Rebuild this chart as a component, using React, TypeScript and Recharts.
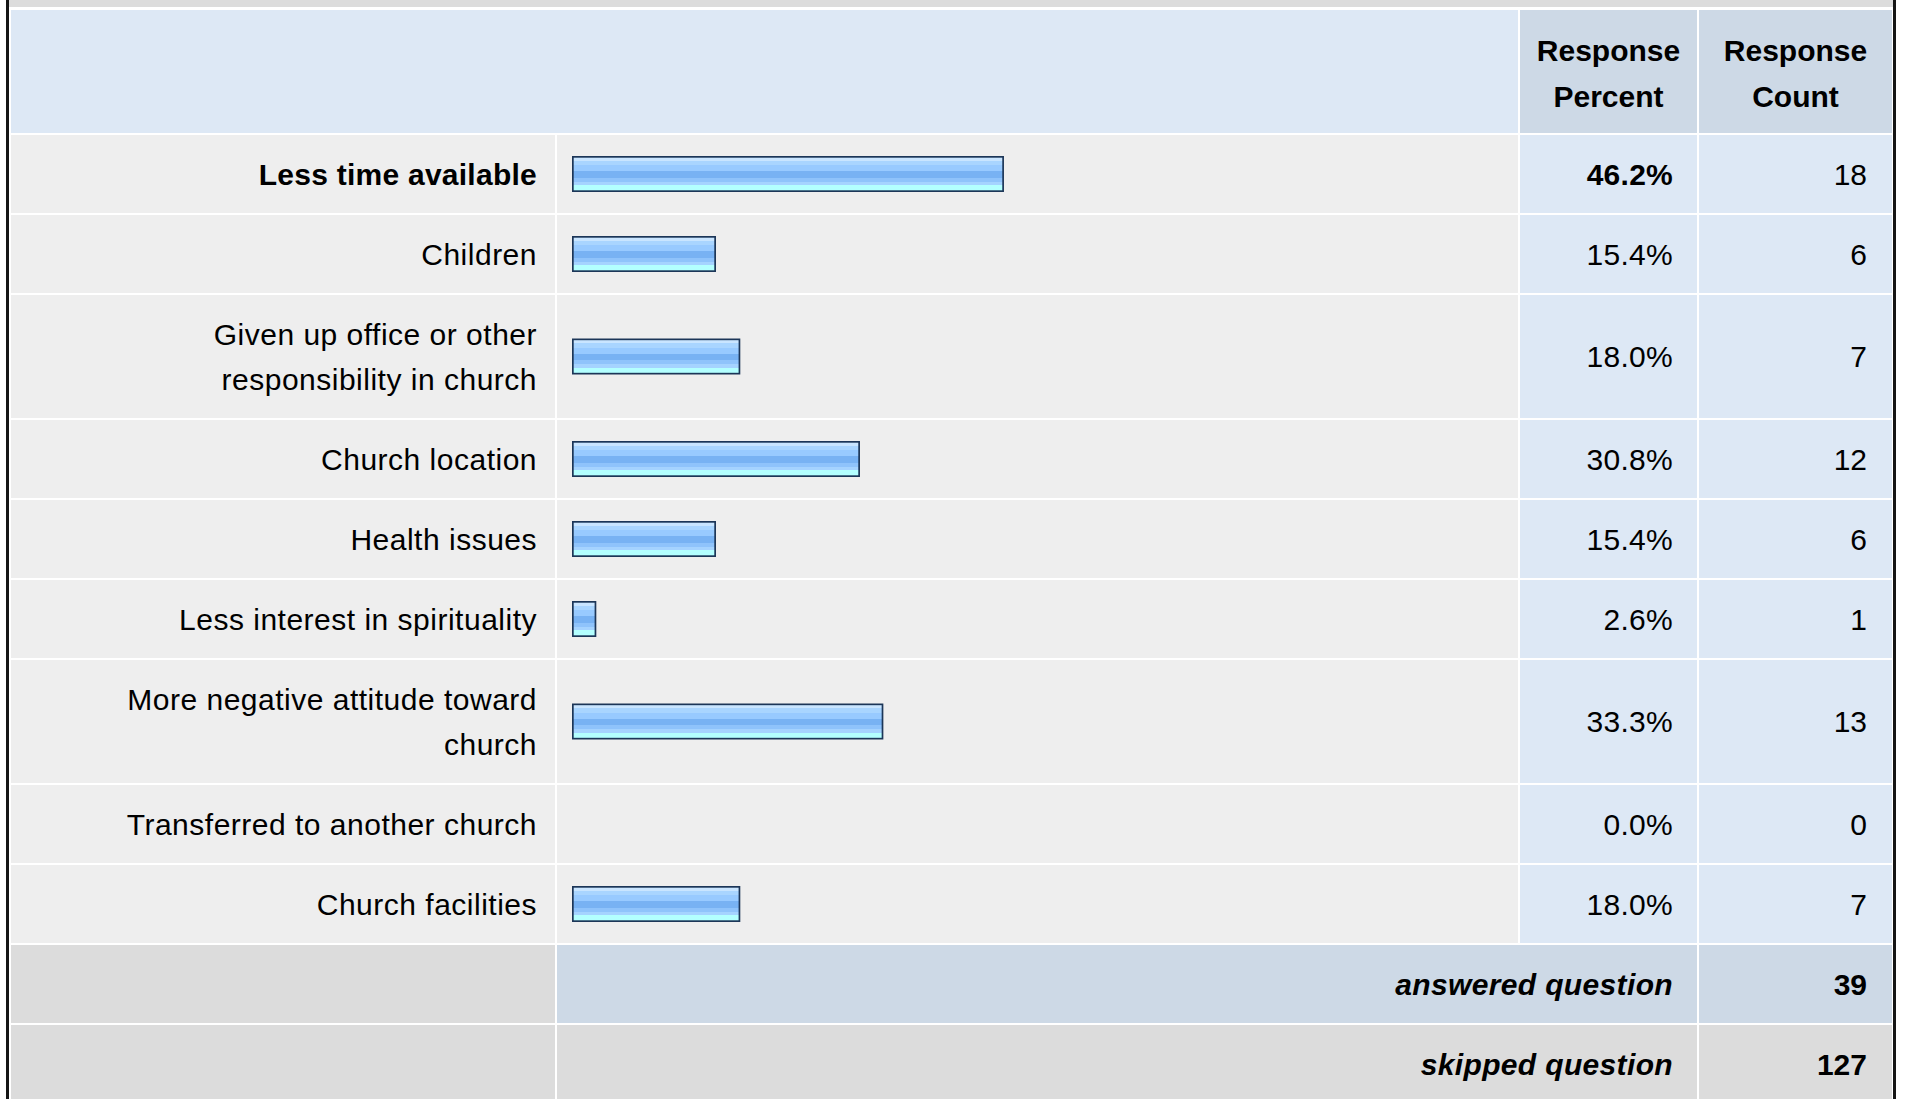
import { ComposedChart, Bar, XAxis, YAxis, LabelList } from "recharts"

// survey answers, one entry per row
const reasons = [
  "Less time available",
  "Children",
  "Given up office or other\nresponsibility in church",
  "Church location",
  "Health issues",
  "Less interest in spirituality",
  "More negative attitude toward\nchurch",
  "Transferred to another church",
  "Church facilities",
]
const responsePercent = [46.2, 15.4, 18.0, 30.8, 15.4, 2.6, 33.3, 0.0, 18.0]
const responseCount = [18, 6, 7, 12, 6, 1, 13, 0, 7]
const headerLabels = ["Response\nPercent", "Response\nCount"]
const footerLabels = ["answered question", "skipped question"]
const footerCounts = [39, 127]

// page layout
const W = 1907
const H = 1099
const FONT = '"Liberation Sans", Arial, Helvetica, sans-serif'
const FONT_SIZE = 30
const LINE_GAP = 45
const HEADER_TOP = 10
const HEADER_BOTTOM = 133
const ROW_H = 80
const COL_LABEL = [11, 555]
const COL_BAR = [557, 1518]
const COL_PCT = [1520, 1697]
const COL_CNT = [1699, 1892]
const BAR_ZERO = 572
const BAR_FULL = 935 // width of a 100% bar
const PAD = 24
const SPACING = 0.5
const SPACING_BOLD = 0.25

const topIndex = responsePercent.indexOf(Math.max(...responsePercent))

// row geometry follows the number of label lines
const rowTops: number[] = []
const rowHeights: number[] = []
let cursor = HEADER_BOTTOM
reasons.forEach((r) => {
  const h = ROW_H + LINE_GAP * (r.split("\n").length - 1)
  rowTops.push(cursor)
  rowHeights.push(h)
  cursor += h
})
const centers = rowTops.map((t, i) => t + 1 + rowHeights[i] / 2)
const footerTops = footerLabels.map((_, i) => cursor + i * ROW_H)

// the vertical number axis runs in page pixels from the top edge
const rows = reasons.map((name, i) => ({
  name,
  percent: responsePercent[i],
  count: responseCount[i],
  pos: centers[i],
}))

const baseline = (center: number, lines: number, k: number) =>
  center - ((lines - 1) * LINE_GAP) / 2 + k * LINE_GAP + 10.5

function LabelTick(props: any) {
  const { y, payload } = props
  const i = centers.indexOf(payload.value)
  if (i < 0) return null
  const lines = reasons[i].split("\n")
  const bold = i === topIndex
  return (
    <text
      textAnchor="end"
      fontFamily={FONT}
      fontSize={FONT_SIZE}
      fontWeight={bold ? "bold" : "normal"}
      letterSpacing={bold ? SPACING_BOLD : SPACING}
      fill="#000"
    >
      {lines.map((l, k) => (
        <tspan key={k} x={COL_LABEL[1] - 18} y={baseline(y, lines.length, k)}>
          {l}
        </tspan>
      ))}
    </text>
  )
}

const renderBar = (props: any) => {
  const { x, y, width, height } = props
  if (!width || width <= 0) return <g />
  return (
    <g>
      <rect x={x} y={y} width={width} height={height} fill="#1c3658" />
      <rect
        x={x + 1.7}
        y={y + 1.7}
        width={Math.max(width - 3.4, 0)}
        height={height - 3.4}
        fill="url(#barStripes)"
      />
    </g>
  )
}

const renderPct = (props: any) => {
  const { index, value } = props
  const bold = index === topIndex
  return (
    <text
      x={COL_PCT[1] - PAD}
      y={centers[index] + 10.5}
      textAnchor="end"
      fontFamily={FONT}
      fontSize={FONT_SIZE}
      fontWeight={bold ? "bold" : "normal"}
      letterSpacing={bold ? SPACING_BOLD : 0.3}
      fill="#000"
    >
      {Number(value).toFixed(1)}%
    </text>
  )
}

const renderCount = (props: any) => {
  const { index, value } = props
  return (
    <text
      x={COL_CNT[1] - PAD - 1}
      y={centers[index] + 10.5}
      textAnchor="end"
      fontFamily={FONT}
      fontSize={FONT_SIZE}
      fill="#000"
    >
      {value}
    </text>
  )
}

const stripes = [
  ["#c9e5ff", 0, 0.1],
  ["#a9d5ff", 0.1, 0.23],
  ["#98caff", 0.23, 0.41],
  ["#78b2f3", 0.41, 0.62],
  ["#8fc3fb", 0.62, 0.74],
  ["#a5d3ff", 0.74, 0.85],
  ["#b3ffff", 0.85, 1],
] as const

function TableBackground() {
  const cell = (x: number[], y0: number, y1: number, fill: string, key: string) => (
    <rect key={key} x={x[0]} y={y0} width={x[1] - x[0]} height={y1 - y0} fill={fill} />
  )
  return (
    <svg width={W} height={H} style={{ position: "absolute", left: 0, top: 0 }}>
      <rect x={0} y={0} width={W} height={H} fill="#fff" />
      <rect x={9} y={0} width={1884} height={7} fill="#dcdcdc" />
      {cell([COL_LABEL[0], COL_BAR[1]], HEADER_TOP, HEADER_BOTTOM, "#dde8f5", "h0")}
      {cell(COL_PCT, HEADER_TOP, HEADER_BOTTOM, "#cdd9e6", "h1")}
      {cell(COL_CNT, HEADER_TOP, HEADER_BOTTOM, "#cdd9e6", "h2")}
      {headerLabels.map((h, i) => {
        const col = i === 0 ? COL_PCT : COL_CNT
        const lines = h.split("\n")
        return (
          <text
            key={"ht" + i}
            textAnchor="middle"
            fontFamily={FONT}
            fontSize={FONT_SIZE}
            fontWeight="bold"
            fill="#000"
          >
            {lines.map((l, k) => (
              <tspan key={k} x={(col[0] + col[1]) / 2} y={61 + k * 46}>
                {l}
              </tspan>
            ))}
          </text>
        )
      })}
      {rowTops.map((t, i) => {
        const y0 = t + 2
        const y1 = t + rowHeights[i]
        return (
          <g key={"r" + i}>
            {cell(COL_LABEL, y0, y1, "#eeeeee", "a")}
            {cell(COL_BAR, y0, y1, "#eeeeee", "b")}
            {cell(COL_PCT, y0, y1, "#dde8f5", "c")}
            {cell(COL_CNT, y0, y1, "#dde8f5", "d")}
          </g>
        )
      })}
      {footerTops.map((t, i) => {
        const y0 = t + 2
        const y1 = t + ROW_H
        const fill = i === 0 ? "#cdd9e6" : "#dcdcdc"
        const cy = (y0 + y1) / 2 + 10.5
        return (
          <g key={"f" + i}>
            {cell(COL_LABEL, y0, y1, "#dcdcdc", "a")}
            {cell([COL_BAR[0], COL_PCT[1]], y0, y1, fill, "b")}
            {cell(COL_CNT, y0, y1, fill, "c")}
            <text
              x={COL_PCT[1] - PAD}
              y={cy}
              textAnchor="end"
              fontFamily={FONT}
              fontSize={FONT_SIZE}
              fontWeight="bold"
              fontStyle="italic"
              letterSpacing={0.35}
              fill="#000"
            >
              {footerLabels[i]}
            </text>
            <text
              x={COL_CNT[1] - PAD - 1}
              y={cy}
              textAnchor="end"
              fontFamily={FONT}
              fontSize={FONT_SIZE}
              fontWeight="bold"
              fill="#000"
            >
              {footerCounts[i]}
            </text>
          </g>
        )
      })}
      <rect x={6} y={0} width={3} height={H} fill="#151515" />
      <rect x={1893} y={0} width={3} height={H} fill="#151515" />
    </svg>
  )
}

export default function App() {
  return (
    <div style={{ position: "absolute", left: 0, top: 0, width: W, height: H, overflow: "hidden" }}>
      <TableBackground />
      <div style={{ position: "absolute", left: 0, top: 0 }}>
        <ComposedChart
          layout="vertical"
          width={W}
          height={H}
          data={rows}
          margin={{ top: 0, right: W - BAR_ZERO - BAR_FULL, bottom: 0, left: 0 }}
        >
          <defs>
            <linearGradient id="barStripes" x1="0" y1="0" x2="0" y2="1">
              {stripes.flatMap(([c, a, b], i) => [
                <stop key={i + "a"} offset={a} stopColor={c} />,
                <stop key={i + "b"} offset={b} stopColor={c} />,
              ])}
            </linearGradient>
          </defs>
          <XAxis type="number" domain={[0, 100]} hide />
          <YAxis
            type="number"
            dataKey="pos"
            domain={[0, H]}
            ticks={centers}
            interval={0}
            width={BAR_ZERO}
            axisLine={false}
            tickLine={false}
            tick={<LabelTick />}
          />
          <Bar dataKey="percent" barSize={36} shape={renderBar} isAnimationActive={false}>
            <LabelList dataKey="percent" content={renderPct} />
            <LabelList dataKey="count" content={renderCount} />
          </Bar>
        </ComposedChart>
      </div>
    </div>
  )
}
